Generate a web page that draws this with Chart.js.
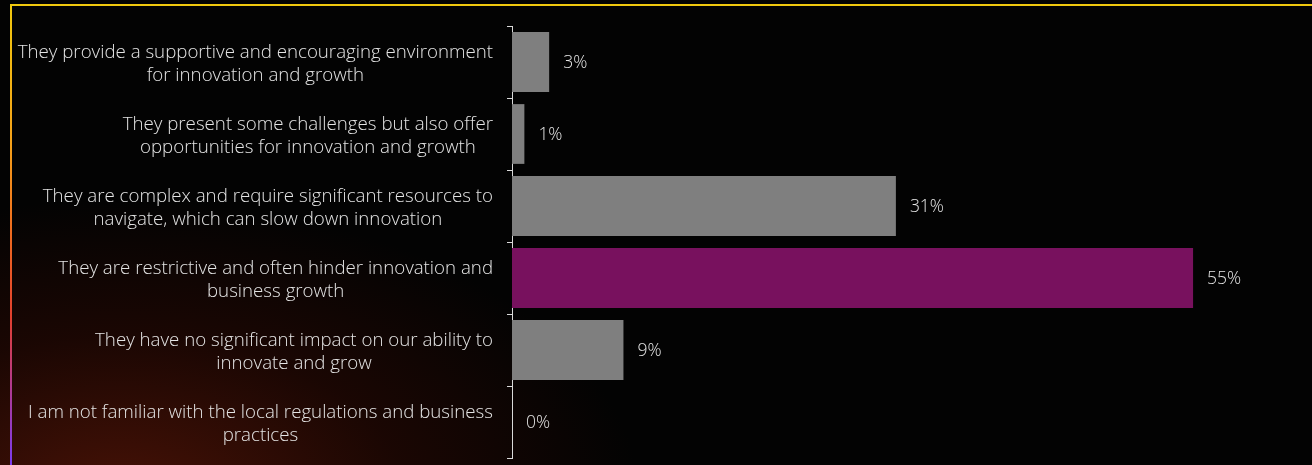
<!DOCTYPE html>
<html>
<head>
<meta charset="utf-8">
<title>Local regulations and business practices</title>
<script src="https://cdn.jsdelivr.net/npm/chart.js@4.4.0/dist/chart.umd.min.js"></script>
<style>
    html, body { margin: 0; padding: 0; background: #000; }
    #wrap {
        position: relative;
        width: 1312px;
        height: 465px;
        overflow: hidden;
        background:
            radial-gradient(ellipse 520px 300px at 120px 500px, rgba(72, 18, 6, 1), rgba(36, 8, 3, 0.7) 55%, rgba(0, 0, 0, 0) 100%),
            #030303;
    }
    .rule-top {
        position: absolute; left: 11px; right: 0; top: 4px; height: 2px;
        background: #f0c80e;
    }
    .rule-left {
        position: absolute; left: 10px; top: 4px; bottom: 0; width: 2px;
        background: linear-gradient(#f0c80e 0%, #f5a21a 30%, #ef6a20 50%, #e1402f 68%, #b43a8a 82%, #7a3cf0 100%);
    }
    canvas { position: absolute; left: 0; top: 0; }
</style>
</head>
<body>
<div id="wrap">
    <div class="rule-top"></div>
    <div class="rule-left"></div>
    <canvas id="regChart" width="1312" height="465"></canvas>
</div>
<script>
// Answer options, each split into the two lines shown beside the axis
const categories = [
    ['They provide a supportive and encouraging environment', 'for innovation and growth'],
    ['They present some challenges but also offer', 'opportunities for innovation and growth'],
    ['They are complex and require significant resources to', 'navigate, which can slow down innovation'],
    ['They are restrictive and often hinder innovation and', 'business growth'],
    ['They have no significant impact on our ability to', 'innovate and grow'],
    ['I am not familiar with the local regulations and business', 'practices']
];

// Share of respondents (%)
const shares = [3, 1, 31, 55, 9, 0];

// Most common answer gets the accent colour
const highlightIndex = 3;

const GREY = '#7f7f7f';
const ACCENT = '#78115e';
const TEXT = '#e4e4e4';
const AXIS = '#d9d9d9';
const FONT = '"Open Sans", "DejaVu Sans", sans-serif';

// Two-line labels: block is right aligned against the axis, lines centred inside it
const categoryLabels = {
    id: 'categoryLabels',
    afterDraw(chart) {
        const ctx = chart.ctx;
        const yScale = chart.scales.y;
        const right = yScale.right - 19;
        const lineHeight = 22.5;
        ctx.save();
        ctx.font = '300 18.7px ' + FONT;
        ctx.fillStyle = TEXT;
        ctx.textAlign = 'center';
        ctx.textBaseline = 'middle';
        categories.forEach((lines, i) => {
            const y = yScale.getPixelForTick(i) + 2;
            const widest = Math.max(...lines.map(l => ctx.measureText(l).width));
            const cx = right - widest / 2;
            const top = y - (lines.length - 1) * lineHeight / 2;
            lines.forEach((line, j) => ctx.fillText(line, cx, top + j * lineHeight));
        });
        ctx.restore();
    }
};

// Percentage next to each bar end
const valueLabels = {
    id: 'valueLabels',
    afterDatasetsDraw(chart) {
        const ctx = chart.ctx;
        const meta = chart.getDatasetMeta(0);
        ctx.save();
        ctx.font = '300 17.5px ' + FONT;
        ctx.fillStyle = TEXT;
        ctx.textAlign = 'left';
        ctx.textBaseline = 'middle';
        meta.data.forEach((bar, i) => {
            ctx.fillText(shares[i] + '%', bar.x + 14, bar.y + 1);
        });
        ctx.restore();
    }
};

const ctx = document.getElementById('regChart').getContext('2d');
new Chart(ctx, {
    type: 'bar',
    data: {
        labels: categories,
        datasets: [{
            data: shares,
            backgroundColor: shares.map((_, i) => i === highlightIndex ? ACCENT : GREY),
            borderWidth: 0,
            categoryPercentage: 1,
            barPercentage: 0.83
        }]
    },
    options: {
        indexAxis: 'y',
        responsive: false,
        animation: false,
        layout: {
            padding: { top: 26, bottom: 7, right: 57, left: 0 }
        },
        plugins: {
            legend: { display: false },
            tooltip: { enabled: false }
        },
        scales: {
            x: {
                display: false,
                min: 0,
                max: 60
            },
            y: {
                afterFit(scale) { scale.width = 512; },
                ticks: { display: false },
                grid: {
                    display: true,
                    drawOnChartArea: false,
                    drawTicks: true,
                    tickLength: 5,
                    color: AXIS,
                    lineWidth: 1
                },
                border: { display: true, color: AXIS, width: 1 }
            }
        }
    },
    plugins: [categoryLabels, valueLabels]
});
</script>
</body>
</html>
